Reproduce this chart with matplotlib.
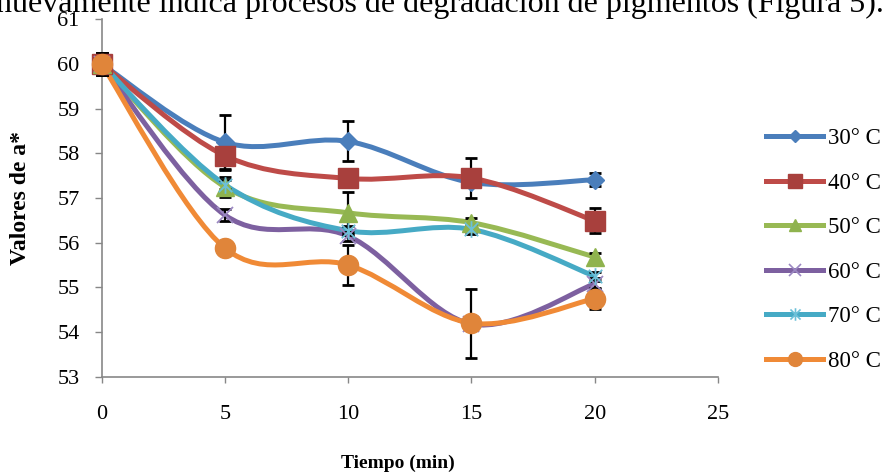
import matplotlib
matplotlib.use('Agg')
import matplotlib.pyplot as plt
from matplotlib.path import Path
from matplotlib.patches import PathPatch
from matplotlib.lines import Line2D

# ---------------- data ----------------
tiempo = [0, 5, 10, 15, 20]
series_labels = ['30° C', '40° C', '50° C', '60° C', '70° C', '80° C']

a_30 = [60.0, 58.25, 58.27, 57.35, 57.41]
a_40 = [60.0, 57.95, 57.44, 57.45, 56.49]
a_50 = [60.0, 57.25, 56.67, 56.45, 55.68]
a_60 = [60.0, 56.62, 56.15, 54.18, 55.08]
a_70 = [60.0, 57.30, 56.27, 56.30, 55.25]
a_80 = [60.0, 55.88, 55.50, 54.20, 54.75]

err_30 = [0.25, 0.62, 0.45, 0.10, 0.15]
err_40 = [0.25, 0.30, 0.10, 0.45, 0.28]
err_50 = [0.25, 0.23, 0.47, 0.10, 0.10]
err_60 = [0.25, 0.13, 0.10, 0.10, 0.12]
err_70 = [0.25, 0.10, 0.10, 0.10, 0.10]
err_80 = [0.25, 0.10, 0.45, 0.77, 0.24]

x_ticks = [0, 5, 10, 15, 20, 25]
y_ticks = [53, 54, 55, 56, 57, 58, 59, 60, 61]

top_text = 'nuevamente indica procesos de degradación de pigmentos (Figura 5).'
x_label = 'Tiempo (min)'
y_label = 'Valores de a*'

# ---------------- style ----------------
values = [a_30, a_40, a_50, a_60, a_70, a_80]
errors = [err_30, err_40, err_50, err_60, err_70, err_80]
line_colors = ['#4A7EBB', '#BE4B48', '#98B954', '#7D60A0', '#46AAC5', '#F08A36']
marker_colors = ['#4A7EBB', '#A8403D', '#8FB34E', '#9B88C2', '#6CC0D8', '#E0853A']

asterisk = Path([(-0.5, -0.5), (0.5, 0.5), (-0.5, 0.5), (0.5, -0.5), (0, -0.62), (0, 0.62)],
                [Path.MOVETO, Path.LINETO, Path.MOVETO, Path.LINETO, Path.MOVETO, Path.LINETO])
markers = ['D', 's', '^', 'x', asterisk, 'o']
msizes = [9.5, 14, 13, 12, 12, 14.5]
leg_msizes = [6, 10, 8, 9, 9, 10]
filled = [True, True, True, False, False, True]

SERIF = 'Liberation Serif'
W, H = 885, 473
L, R, T, B = 101.7, 718.0, 19.5, 376.7

fig = plt.figure(figsize=(W / 100, H / 100), dpi=100)
ax = fig.add_axes([L / W, 1 - B / H, (R - L) / W, (B - T) / H])
ax.set_xlim(0, 25)
ax.set_ylim(53, 61)


def smooth_path(xs, ys):
    pts = list(zip(xs, ys))
    n = len(pts)
    verts = [pts[0]]
    codes = [Path.MOVETO]
    for i in range(n - 1):
        p0 = pts[max(i - 1, 0)]
        p1 = pts[i]
        p2 = pts[i + 1]
        p3 = pts[min(i + 2, n - 1)]
        c1 = (p1[0] + (p2[0] - p0[0]) / 6.0, p1[1] + (p2[1] - p0[1]) / 6.0)
        c2 = (p2[0] - (p3[0] - p1[0]) / 6.0, p2[1] - (p3[1] - p1[1]) / 6.0)
        verts += [c1, c2, p2]
        codes += [Path.CURVE4] * 3
    return Path(verts, codes)


for k in range(len(values)):
    patch = PathPatch(smooth_path(tiempo, values[k]), fill=False, edgecolor=line_colors[k],
                      lw=3.6, zorder=2 + 0.01 * k, capstyle='round', joinstyle='round')
    patch.set_clip_on(False)
    ax.add_patch(patch)

for k in range(len(values)):
    cont = ax.errorbar(tiempo, values[k], yerr=errors[k], fmt='none', ecolor='black',
                       elinewidth=1.6, capsize=4.3, capthick=2.0, zorder=3)
    for art in cont.lines[1] + cont.lines[2]:
        art.set_clip_on(False)

for k in range(len(values)):
    if filled[k]:
        ax.plot(tiempo, values[k], ls='none', marker=markers[k], ms=msizes[k],
                mfc=marker_colors[k], mec=marker_colors[k], zorder=4, clip_on=False)
    else:
        ax.plot(tiempo, values[k], ls='none', marker=markers[k], ms=msizes[k],
                mec=marker_colors[k], mew=1.3, zorder=4, clip_on=False)

ax.set_xticks(x_ticks)
ax.set_yticks(y_ticks)
ax.set_xticklabels([str(v) for v in x_ticks])
ax.set_yticklabels([str(v) for v in y_ticks])
for s in ['top', 'right']:
    ax.spines[s].set_visible(False)
for s in ['left', 'bottom']:
    ax.spines[s].set_color('#878787')
    ax.spines[s].set_linewidth(1.2)
ax.tick_params(axis='x', direction='out', length=4.3, width=1, color='#878787', pad=16,
               labelsize=16)
ax.tick_params(axis='y', direction='out', length=5, width=1, color='#878787', pad=11,
               labelsize=16)
for lab in ax.get_xticklabels() + ax.get_yticklabels():
    lab.set_fontfamily(SERIF)

ax.set_xlabel(x_label, fontsize=14, fontweight='bold', fontfamily=SERIF, va='center')
ax.xaxis.set_label_coords((398 - L) / (R - L), -(463 - B) / (B - T))
ax.set_ylabel(y_label, fontsize=17, fontweight='bold', fontfamily=SERIF, va='center')
ax.yaxis.set_label_coords((20 - L) / (R - L), 0.5)

handles = []
for k in range(len(values)):
    if filled[k]:
        h = Line2D([], [], color=line_colors[k], lw=3.6, marker=markers[k], ms=leg_msizes[k],
                   mfc=marker_colors[k], mec=marker_colors[k])
    else:
        h = Line2D([], [], color=line_colors[k], lw=3.6, marker=markers[k], ms=leg_msizes[k],
                   mec=marker_colors[k], mew=1.2)
    handles.append(h)
fig.legend(handles, series_labels, loc='center left', bbox_to_anchor=(766 / W, 1 - 250 / H),
           frameon=False, borderpad=0, borderaxespad=0, handlelength=2.5, handletextpad=0.2,
           labelspacing=1.02, prop={'family': SERIF, 'size': 16.5})

fig.text(884 / W, 1 - 12 / H, top_text, ha='right', va='baseline', fontsize=23,
         fontfamily=SERIF)

fig.savefig('out.png', dpi=100)
